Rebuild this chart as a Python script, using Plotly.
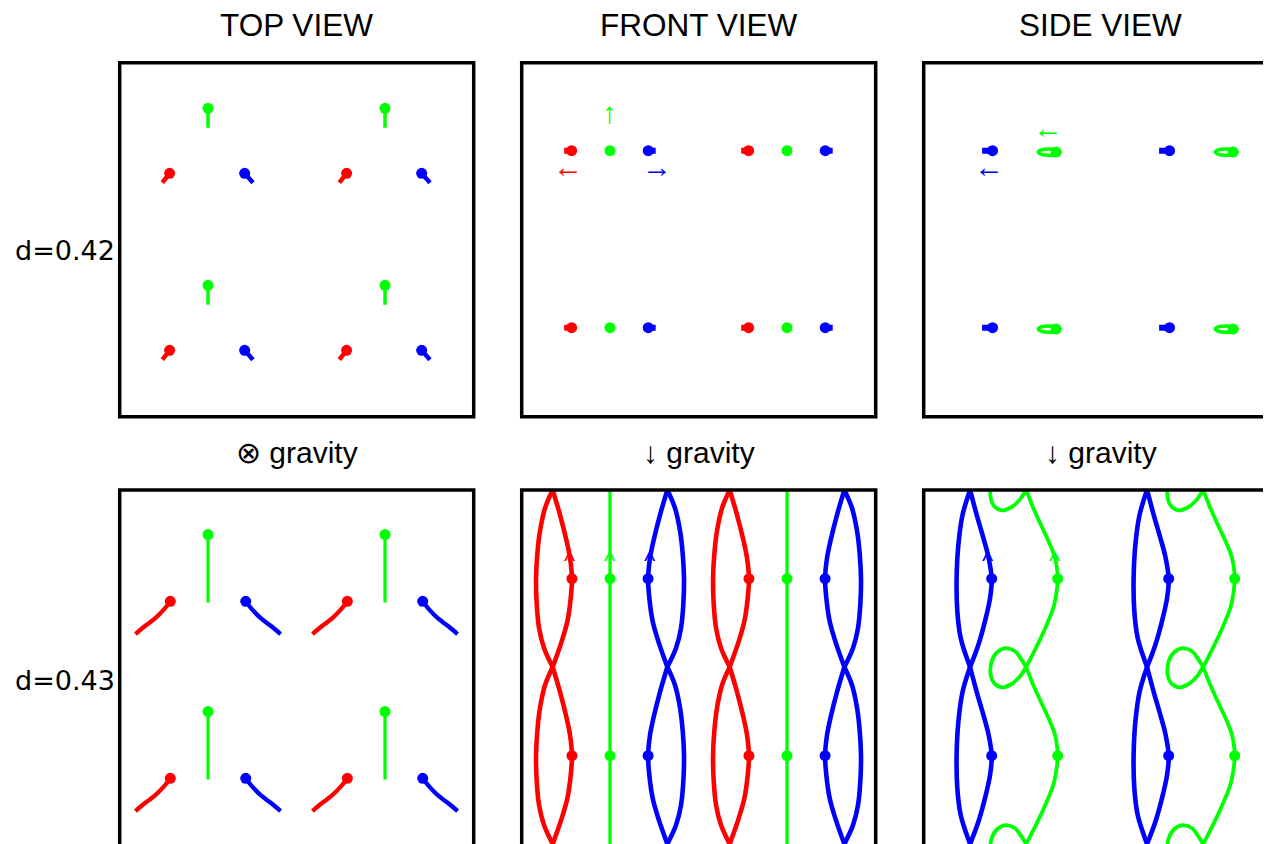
import plotly.graph_objects as go

# ---------------- data: lattice-cell units (u to the right, v downward) ----------------
# d = 0.42, TOP VIEW (first point of each list = particle position)
t42_green_u = [0.499, 0.499]; t42_green_v = [0.258, 0.367]
t42_red_u = [0.282, 0.241];   t42_red_v = [0.625, 0.678]
t42_blue_u = [0.706, 0.753];  t42_blue_v = [0.625, 0.678]
# d = 0.42, FRONT VIEW
f42_red_u = [0.282, 0.240];   f42_red_v = [0.497, 0.497]
f42_green_u = [0.499];        f42_green_v = [0.497]
f42_blue_u = [0.715, 0.757];  f42_blue_v = [0.497, 0.497]
# d = 0.42, SIDE VIEW
s42_blue_u = [0.389, 0.330];  s42_blue_v = [0.497, 0.497]
s42_green_u = [0.771, 0.753, 0.709, 0.665, 0.647, 0.665, 0.709, 0.753, 0.771]
s42_green_v = [0.505, 0.518, 0.523, 0.518, 0.505, 0.492, 0.487, 0.492, 0.505]
s42_green_dot_u = [0.748];    s42_green_dot_v = [0.505]

# d = 0.43, TOP VIEW
t43_green_u = [0.499, 0.499]; t43_green_v = [0.252, 0.635]
t43_red_u = [0.286, 0.254, 0.198, 0.141, 0.089]
t43_red_v = [0.629, 0.670, 0.727, 0.770, 0.814]
t43_blue_u = [0.712, 0.744, 0.800, 0.857, 0.909]
t43_blue_v = [0.629, 0.670, 0.727, 0.770, 0.814]
# d = 0.43, FRONT VIEW (lobes split into inner / outer halves)
f43_red_in_u = [0.175, 0.216, 0.254, 0.273, 0.284, 0.277, 0.258, 0.226, 0.175]
f43_red_out_u = [0.175, 0.132, 0.103, 0.088, 0.081, 0.085, 0.098, 0.126, 0.175]
f43_blue_in_u = [0.823, 0.782, 0.744, 0.725, 0.714, 0.721, 0.740, 0.772, 0.823]
f43_blue_out_u = [0.823, 0.866, 0.895, 0.910, 0.917, 0.913, 0.900, 0.872, 0.823]
f43_in_v = [0.0, 0.139, 0.290, 0.384, 0.501, 0.610, 0.742, 0.855, 1.0]
f43_out_v = [0.0, 0.102, 0.234, 0.365, 0.501, 0.648, 0.780, 0.893, 1.0]
f43_green_u = [0.499, 0.499]; f43_green_v = [0.0, 1.0]
f43_dot_u = [0.284, 0.499, 0.714]; f43_dot_v = [0.501, 0.501, 0.501]
# d = 0.43, SIDE VIEW
s43_blue_in_u = [0.262, 0.299, 0.337, 0.365, 0.384, 0.375, 0.346, 0.309, 0.262]
s43_blue_in_v = [0.0, 0.139, 0.271, 0.375, 0.501, 0.610, 0.742, 0.874, 1.0]
s43_blue_out_u = [0.262, 0.220, 0.196, 0.186, 0.190, 0.209, 0.262]
s43_blue_out_v = [0.0, 0.139, 0.309, 0.501, 0.685, 0.836, 1.0]
s43_green_u = [0.578, 0.619, 0.666, 0.714, 0.742, 0.755, 0.757, 0.751, 0.732, 0.695, 0.648, 0.610, 0.578,
               0.544, 0.497, 0.440, 0.397, 0.378, 0.384, 0.416, 0.465, 0.516, 0.553, 0.578]
s43_green_v = [0.0, 0.102, 0.205, 0.309, 0.384, 0.460, 0.501, 0.573, 0.667, 0.761, 0.864, 0.940, 1.0,
               1.053, 1.096, 1.115, 1.090, 1.043, 0.968, 0.915, 0.893, 0.911, 0.959, 1.0]
s43_blue_dot_u = [0.384];  s43_blue_dot_v = [0.501]
s43_green_dot_u = [0.757]; s43_green_dot_v = [0.501]

# direction glyphs: (panel, u, v, glyph, colour-key, size)
glyphs = [
    (1, 0.495, 0.280, "↑", "g", 30), (1, 0.260, 0.584, "←", "r", 30), (1, 0.762, 0.584, "→", "b", 30),
    (2, 0.700, 0.365, "←", "g", 30), (2, 0.369, 0.584, "←", "b", 30),
    (4, 0.272, 0.40, "^", "r", 24), (4, 0.499, 0.40, "^", "g", 24), (4, 0.727, 0.40, "^", "b", 24),
    (5, 0.366, 0.40, "^", "b", 24), (5, 0.740, 0.40, "^", "g", 24),
]
col_titles = ["TOP VIEW", "FRONT VIEW", "SIDE VIEW"]
gravity_labels = ["⊗ gravity", "↓ gravity", "↓ gravity"]
row_labels = ["d=0.42", "d=0.43"]

# ---------------- layout constants ----------------
W, H = 1271, 844
OFF = 8.0          # page body margin of the exported html
UNIT = 177.0
PANEL = 354.0
LEFTS = [119.7 - OFF, 521.7 - OFF, 923.7 - OFF]
TOPS = [62.7 - OFF, 490.0 - OFF]
COL = {"r": "#ff0000", "g": "#00ff00", "b": "#0000ff"}
FONT = "Liberation Sans, Arial, Helvetica, sans-serif"


def tile(us, vs, dus=(0, 1), dvs=(0, 1), joined=False):
    X, Y = [], []
    for du in dus:
        if joined:
            for k, dv in enumerate(dvs):
                s = 0 if k == 0 else 1
                X += [u + du for u in us[s:]]
                Y += [v + dv for v in vs[s:]]
            X.append(None); Y.append(None)
        else:
            for dv in dvs:
                X += [u + du for u in us] + [None]
                Y += [v + dv for v in vs] + [None]
    return X, Y


fig = go.Figure()


def axn(p):
    return ("x" if p == 0 else f"x{p+1}"), ("y" if p == 0 else f"y{p+1}")


def line(p, us, vs, c, w=3, shape="linear", dvs=(0, 1), joined=False):
    X, Y = tile(us, vs, dvs=dvs, joined=joined)
    xa, ya = axn(p)
    fig.add_trace(go.Scatter(x=X, y=Y, xaxis=xa, yaxis=ya, mode="lines",
                             line=dict(color=COL[c], width=w, shape=shape),
                             hoverinfo="skip", showlegend=False))


def dots(p, us, vs, c, size=11, dvs=(0, 1)):
    X, Y = tile(us, vs, dvs=dvs)
    xa, ya = axn(p)
    fig.add_trace(go.Scatter(x=X, y=Y, xaxis=xa, yaxis=ya, mode="markers",
                             marker=dict(color=COL[c], size=size, line=dict(width=0)),
                             hoverinfo="skip", showlegend=False))


# panel 0: top view d=0.42
line(0, t42_green_u, t42_green_v, "g", 3.5)
line(0, t42_red_u, t42_red_v, "r", 4.5)
line(0, t42_blue_u, t42_blue_v, "b", 4.5)
dots(0, t42_green_u[:1], t42_green_v[:1], "g")
dots(0, t42_red_u[:1], t42_red_v[:1], "r")
dots(0, t42_blue_u[:1], t42_blue_v[:1], "b")
# panel 1: front view d=0.42
line(1, f42_red_u, f42_red_v, "r", 6)
line(1, f42_blue_u, f42_blue_v, "b", 6)
dots(1, f42_red_u[:1], f42_red_v[:1], "r")
dots(1, f42_green_u, f42_green_v, "g")
dots(1, f42_blue_u[:1], f42_blue_v[:1], "b")
# panel 2: side view d=0.42
line(2, s42_blue_u, s42_blue_v, "b", 6)
line(2, s42_green_u, s42_green_v, "g", 3.5, shape="spline")
dots(2, s42_blue_u[:1], s42_blue_v[:1], "b")
dots(2, s42_green_dot_u, s42_green_dot_v, "g")
# panel 3: top view d=0.43
line(3, t43_green_u, t43_green_v, "g", 3.2)
line(3, t43_red_u, t43_red_v, "r", 4.3, shape="spline")
line(3, t43_blue_u, t43_blue_v, "b", 4.3, shape="spline")
dots(3, t43_green_u[:1], t43_green_v[:1], "g")
dots(3, t43_red_u[:1], t43_red_v[:1], "r")
dots(3, t43_blue_u[:1], t43_blue_v[:1], "b")
# panel 4: front view d=0.43
line(4, f43_green_u, f43_green_v, "g", 3.3)
line(4, f43_red_in_u, f43_in_v, "r", 4.6, shape="spline")
line(4, f43_red_out_u, f43_out_v, "r", 4.6, shape="spline")
line(4, f43_blue_in_u, f43_in_v, "b", 4.6, shape="spline")
line(4, f43_blue_out_u, f43_out_v, "b", 4.6, shape="spline")
dots(4, f43_dot_u[:1], f43_dot_v[:1], "r")
dots(4, f43_dot_u[1:2], f43_dot_v[1:2], "g")
dots(4, f43_dot_u[2:], f43_dot_v[2:], "b")
# panel 5: side view d=0.43
line(5, s43_blue_in_u, s43_blue_in_v, "b", 4.6, shape="spline")
line(5, s43_blue_out_u, s43_blue_out_v, "b", 4.6, shape="spline")
line(5, s43_green_u, s43_green_v, "g", 3.8, shape="spline", dvs=(-1, 0, 1, 2), joined=True)
dots(5, s43_blue_dot_u, s43_blue_dot_v, "b")
dots(5, s43_green_dot_u, s43_green_dot_v, "g")

layout = dict(width=W, height=H, margin=dict(l=0, r=0, t=0, b=0),
              paper_bgcolor="white", plot_bgcolor="white", showlegend=False)
shapes, annotations = [], []
for p in range(6):
    r, c = divmod(p, 3)
    left, top = LEFTS[c], TOPS[r]
    right, bottom = min(left + PANEL, W), min(top + PANEL, H)
    key = "" if p == 0 else str(p + 1)
    layout["xaxis" + key] = dict(domain=[left / W, right / W], range=[0, (right - left) / UNIT],
                                 visible=False, fixedrange=True)
    layout["yaxis" + key] = dict(domain=[1 - bottom / H, 1 - top / H], range=[(bottom - top) / UNIT, 0],
                                 visible=False, fixedrange=True)
    box_bottom = top + PANEL if r == 0 else top + PANEL + 6
    shapes.append(dict(type="rect", xref="paper", yref="paper", x0=left / W, x1=(left + PANEL) / W,
                       y0=1 - box_bottom / H, y1=1 - top / H, line=dict(color="black", width=3.5),
                       layer="above"))

for c in range(3):
    cx = (LEFTS[c] + PANEL / 2) / W
    annotations.append(dict(text=col_titles[c], x=cx, y=1 - (25 - OFF) / H, xref="paper", yref="paper",
                            showarrow=False, xanchor="center", yanchor="middle",
                            font=dict(family=FONT, size=31.5, color="black")))
    annotations.append(dict(text=gravity_labels[c], x=cx, y=1 - (452 - OFF) / H, xref="paper", yref="paper",
                            showarrow=False, xanchor="center", yanchor="middle",
                            font=dict(family=FONT, size=30, color="black")))
for r, lab in enumerate(row_labels):
    annotations.append(dict(text=lab, x=(117 - OFF) / W, y=1 - ([250, 680][r] - OFF) / H,
                            xref="paper", yref="paper",
                            showarrow=False, xanchor="right", yanchor="middle",
                            font=dict(family="DejaVu Sans, sans-serif", size=27, color="black")))
for (p, u, v, g, c, s) in glyphs:
    xa, ya = axn(p)
    annotations.append(dict(text=g, x=u, y=v, xref=xa, yref=ya, showarrow=False,
                            xanchor="center", yanchor="middle",
                            font=dict(family=FONT, size=s, color=COL[c])))

layout["shapes"] = shapes
layout["annotations"] = annotations
fig.update_layout(**layout)
fig.write_html("out.html")
